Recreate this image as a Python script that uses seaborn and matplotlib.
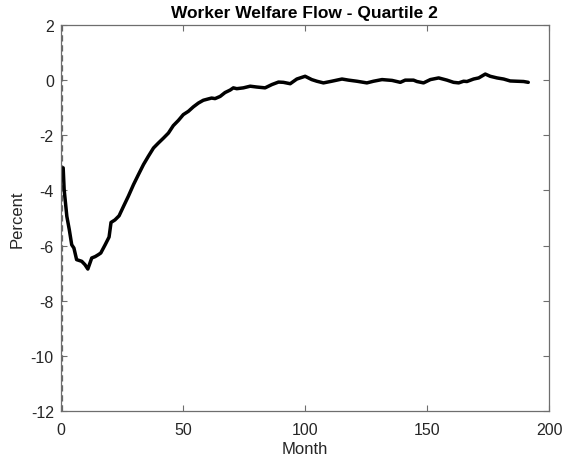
import matplotlib
matplotlib.use("Agg")
import matplotlib.pyplot as plt
import seaborn as sns
import pandas as pd

# ---- data ----
months = [1, 1.4, 2.5, 3.5, 4.5, 5.4, 6.5, 8.6, 9.9, 11.1, 12.7, 14.1, 15.4, 16.4,
          18.2, 19.8, 20.6, 22.2, 23.9, 25.7, 27.7, 29.8, 31.8, 33.9, 35.9, 38.0,
          40.0, 42.1, 44.1, 46.1, 48.2, 50.2, 52.3, 54.3, 56.4, 58.4, 60.5, 61.8,
          63.2, 65.3, 67.3, 69.4, 70.7, 72.1, 74.8, 77.6, 80.3, 83.7, 86.5, 89.2,
          91.2, 94.0, 96.7, 100.1, 102.8, 104.9, 107.6, 111.0, 115.2, 117.9, 121.3,
          125.4, 128.1, 131.6, 135.7, 139.1, 141.1, 144.5, 145.9, 148.6, 151.4,
          154.8, 158.2, 160.9, 163.0, 165.0, 166.4, 169.1, 171.2, 173.9, 175.9,
          178.7, 181.4, 184.1, 186.8, 189.6, 191.5]
welfare = [-3.18, -3.97, -4.94, -5.42, -5.97, -6.09, -6.51, -6.57, -6.69, -6.85,
           -6.45, -6.40, -6.33, -6.27, -5.97, -5.69, -5.16, -5.07, -4.92, -4.58,
           -4.21, -3.79, -3.43, -3.06, -2.76, -2.46, -2.28, -2.10, -1.92, -1.65,
           -1.46, -1.25, -1.13, -0.97, -0.83, -0.73, -0.68, -0.65, -0.67, -0.59,
           -0.45, -0.36, -0.28, -0.31, -0.28, -0.22, -0.25, -0.28, -0.16, -0.07,
           -0.08, -0.13, 0.04, 0.14, 0.02, -0.04, -0.10, -0.04, 0.04, 0.00, -0.04,
           -0.10, -0.04, 0.02, -0.01, -0.08, 0.00, 0.00, -0.05, -0.10, 0.02, 0.08,
           0.00, -0.08, -0.10, -0.04, -0.05, 0.04, 0.08, 0.22, 0.14, 0.08, 0.04,
           -0.03, -0.04, -0.05, -0.08]
event_month = [0.7]
x_ticks = [0, 50, 100, 150, 200]
y_ticks = [-12, -10, -8, -6, -4, -2, 0, 2]
title = "Worker Welfare Flow - Quartile 2"
x_label = "Month"
y_label = "Percent"

df = pd.DataFrame({"Month": months, "Percent": welfare})

sns.set_theme(style="white")
plt.rcParams["font.family"] = ["Liberation Sans", "DejaVu Sans"]
plt.rcParams["axes.unicode_minus"] = False

fig = plt.figure(figsize=(5.66, 4.64), dpi=100)
ax = fig.add_axes([0.1073, 0.112, 0.8627, 0.832])

for m in event_month:
    ax.axvline(m, color="#666666", linestyle=(0, (5, 3)), linewidth=0.9)

sns.lineplot(data=df, x="Month", y="Percent", ax=ax, color="black",
             linewidth=2.5, estimator=None, sort=False)

ax.set_xlim(0, 200)
ax.set_ylim(-12, 2)
ax.set_xticks(x_ticks)
ax.set_yticks(y_ticks)
ax.set_xlabel(x_label, fontsize=12, color="#262626")
ax.set_ylabel(y_label, fontsize=12, color="#262626")
ax.xaxis.set_label_coords(0.5, -0.078)
ax.yaxis.set_label_coords(-0.074, 0.5)
ax.set_title(title, fontsize=12.5, fontweight="bold", color="black", pad=6)

axis_col = "#6e6e6e"
for s in ax.spines.values():
    s.set_visible(True)
    s.set_color(axis_col)
    s.set_linewidth(0.9)
ax.tick_params(direction="in", bottom=True, left=True, top=True, right=True,
               length=4, width=0.8, colors=axis_col, labelcolor="#262626",
               labelsize=11.5)
ax.tick_params(axis="x", pad=8)
ax.tick_params(axis="y", pad=5)

fig.savefig("out.png", dpi=100)
